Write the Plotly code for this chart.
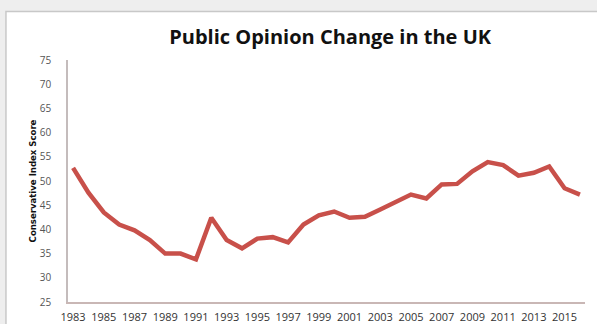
import plotly.graph_objects as go

years = list(range(1983, 2017))
scores = [52.7, 47.6, 43.5, 41.0, 39.8, 37.8, 35.0, 35.0, 33.8, 42.4,
          37.8, 36.1, 38.1, 38.4, 37.3, 41.0, 42.9, 43.7, 42.4, 42.6,
          44.1, 45.7, 47.2, 46.4, 49.3, 49.4, 52.0, 53.9, 53.3, 51.1,
          51.7, 53.0, 48.5, 47.2]
tick_years = list(range(1983, 2016, 2))
y_ticks = [25, 30, 35, 40, 45, 50, 55, 60, 65, 70, 75]

fig = go.Figure()
fig.add_trace(go.Scatter(
    x=years, y=scores, mode="lines",
    line=dict(color="#c8504a", width=4.5),
    hoverinfo="skip", showlegend=False,
))

fig.update_layout(
    width=597, height=324,
    margin=dict(l=68, r=12, t=60, b=22),
    paper_bgcolor="#eeeeee",
    plot_bgcolor="white",
    title=dict(text="<b>Public Opinion Change in the UK</b>",
               x=0.553, xanchor="center", y=0.885, yanchor="middle",
               font=dict(family="Open Sans", size=20, color="#111111")),
    shapes=[dict(type="rect", xref="paper", yref="paper",
                 x0=-0.12, x1=1.2, y0=-0.2, y1=1.2,
                 fillcolor="white", line=dict(color="#c8c8c8", width=1.5),
                 layer="below")],
    xaxis=dict(range=[1982.67, 2016.33], tickvals=tick_years,
               ticktext=[str(v) for v in tick_years], automargin=False,
               showgrid=False, zeroline=False, showline=True,
               linecolor="#c9b7b5", linewidth=1.5,
               ticks="outside", ticklen=4, tickcolor="rgba(0,0,0,0)",
               tickfont=dict(family="Open Sans", size=11, color="#333333")),
    yaxis=dict(range=[25, 75], tickvals=y_ticks, showgrid=False,
               zeroline=False, showline=True, linecolor="#c4bcbc",
               linewidth=1.5, ticks="outside", ticklen=13, automargin=False,
               tickcolor="rgba(0,0,0,0)",
               tickfont=dict(family="Open Sans", size=10, color="#555555"),
               title=dict(text="<b>Conservative Index Score</b>", standoff=1,
                          font=dict(family="DejaVu Sans Condensed", size=9.5,
                                    color="#111111"))),
)

fig.write_html("out.html", config={"displayModeBar": False},
               post_script="document.body.style.margin='0';"
                           "document.body.style.background='#eeeeee';")
